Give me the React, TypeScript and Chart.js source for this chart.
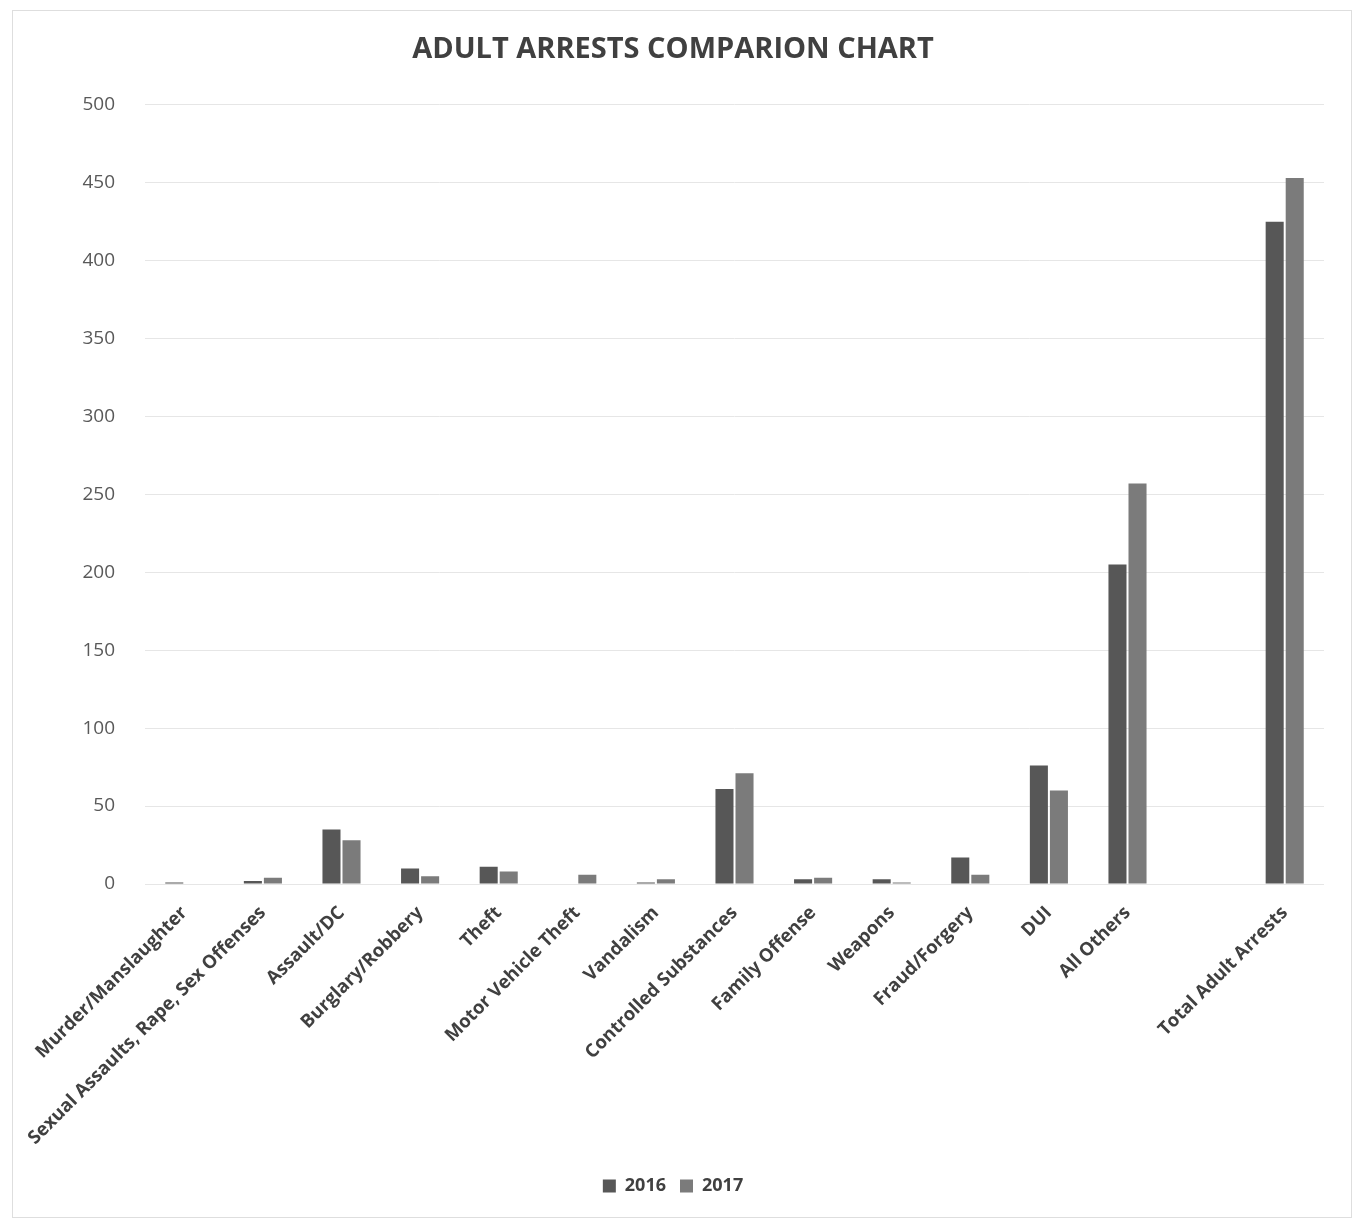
import React, { useEffect, useRef } from "react";
import { Chart, registerables } from "chart.js";

Chart.register(...registerables);

// Offense categories; the blank entry leaves a gap before the total column
const categories = [
  "Murder/Manslaughter",
  "Sexual Assaults, Rape, Sex Offenses",
  "Assault/DC",
  "Burglary/Robbery",
  "Theft",
  "Motor Vehicle Theft",
  "Vandalism",
  "Controlled Substances",
  "Family Offense",
  "Weapons",
  "Fraud/Forgery",
  "DUI",
  "All Others",
  "",
  "Total Adult Arrests",
];

const arrests2016 = [1, 2, 35, 10, 11, 0, 1, 61, 3, 3, 17, 76, 205, null, 425];
const arrests2017 = [0, 4, 28, 5, 8, 6, 3, 71, 4, 1, 6, 60, 257, null, 453];

const yTicks = [0, 50, 100, 150, 200, 250, 300, 350, 400, 450, 500];

const WIDTH = 1356;
const HEIGHT = 1222;

export default function App() {
  const canvasRef = useRef<HTMLCanvasElement | null>(null);

  useEffect(() => {
    const canvas = canvasRef.current;
    if (!canvas) return;

    const chart = new Chart(canvas, {
      type: "bar",
      data: {
        labels: categories,
        datasets: [
          {
            label: "2016",
            data: arrests2016,
            backgroundColor: "#575757",
            barPercentage: 0.9,
            categoryPercentage: 0.51,
          },
          {
            label: "2017",
            data: arrests2017,
            backgroundColor: "#7b7b7b",
            barPercentage: 0.9,
            categoryPercentage: 0.51,
          },
        ],
      },
      options: {
        responsive: false,
        animation: false,
        layout: { padding: { left: 22, right: 32, top: 0, bottom: 17 } },
        plugins: {
          title: {
            display: true,
            text: "ADULT ARRESTS COMPARION CHART",
            color: "#404040",
            font: { family: "'Open Sans', sans-serif", size: 29, weight: "bold" },
            padding: { top: 32, bottom: 38 },
          },
          legend: {
            position: "bottom",
            labels: {
              color: "#404040",
              boxWidth: 13,
              boxHeight: 13,
              padding: 14,
              font: { family: "'Open Sans', sans-serif", size: 18, weight: "bold" },
            },
          },
          tooltip: { enabled: false },
        },
        scales: {
          x: {
            grid: { display: false },
            border: { display: false },
            ticks: {
              autoSkip: false,
              maxRotation: 45,
              minRotation: 45,
              padding: 10,
              color: "#404040",
              font: { family: "'Open Sans', sans-serif", size: 18.5, weight: "bold" },
            },
            afterFit: (scale: any) => {
              scale.height = 279;
            },
          },
          y: {
            min: 0,
            max: 500,
            afterBuildTicks: (scale: any) => {
              scale.ticks = yTicks.map((v) => ({ value: v }));
            },
            grid: { color: "#e6e6e6", drawTicks: false },
            border: { display: false },
            ticks: {
              padding: 30,
              color: "#595959",
              font: { family: "'Open Sans', sans-serif", size: 19 },
            },
            afterFit: (scale: any) => {
              scale.width = 123;
            },
          },
        },
      },
    });

    return () => chart.destroy();
  }, []);

  return (
    <div style={{ position: "absolute", left: 0, top: 0, width: WIDTH, height: HEIGHT, background: "#fff" }}>
      <canvas ref={canvasRef} width={WIDTH} height={HEIGHT} style={{ display: "block" }} />
      <div
        style={{
          position: "absolute",
          left: 12,
          top: 10,
          width: 1338,
          height: 1206,
          border: "1px solid #dedede",
          pointerEvents: "none",
        }}
      />
    </div>
  );
}
